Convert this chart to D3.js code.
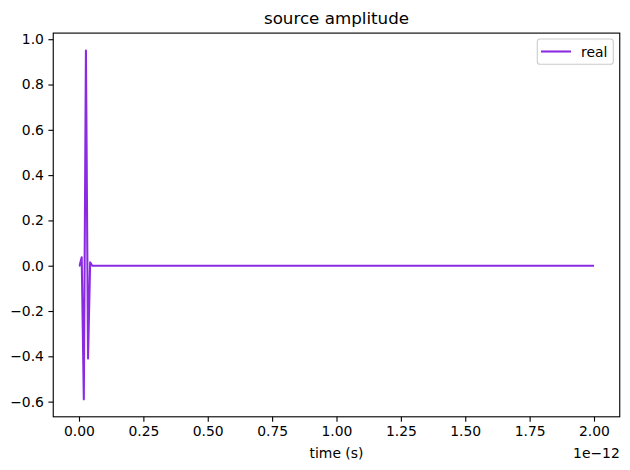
<!DOCTYPE html>
<html>
<head>
<meta charset="utf-8">
<script src="https://cdn.jsdelivr.net/npm/d3@7"></script>
<style>
  body { margin: 0; background: #fff; }
  svg { display: block; font-family: "DejaVu Sans", sans-serif; }
</style>
</head>
<body>
<svg id="chart" width="630" height="470"></svg>
<script>
// time in units of 1e-12 s
const timeValues = [0, 0.0023, 0.0105, 0.0187, 0.0269, 0.0351, 0.0433, 0.0515, 2.0];
const realValues = [0, 0.0, 0.037, -0.59, 0.95, -0.41, 0.015, 0.0, 0.0];
const xTicks = [0, 0.25, 0.5, 0.75, 1.0, 1.25, 1.5, 1.75, 2.0];
const yTicks = [-0.6, -0.4, -0.2, 0.0, 0.2, 0.4, 0.6, 0.8, 1.0];
const seriesName = "real";
const titleText = "source amplitude";
const xLabel = "time (s)";
const offsetText = "1e\u221212";

(function () {
const svg = d3.select("#chart");
const pLeft = 53.25, pRight = 619.75, pTop = 33.1, pBottom = 416.8;
const color = "#8a2be2";

const x = d3.scaleLinear().domain([-0.1, 2.1]).range([pLeft, pRight]);
const yMin = d3.min(realValues), yMax = d3.max(realValues);
const yPad = (yMax - yMin) * 0.05;
const y = d3.scaleLinear().domain([yMin - yPad, yMax + yPad]).range([pBottom, pTop]);

const fmtMinus = s => s.replace("-", "\u2212");

// line
const data = timeValues.map((t, i) => ({ t, v: realValues[i] }));
svg.append("path")
  .datum(data)
  .attr("fill", "none")
  .attr("stroke", color)
  .attr("stroke-width", 2.08)
  .attr("stroke-linejoin", "round")
  .attr("stroke-linecap", "butt")
  .attr("d", d3.line().x(d => x(d.t)).y(d => y(d.v)));

// axes
const xAxis = d3.axisBottom(x).tickValues(xTicks).tickFormat(d => d3.format(".2f")(d)).tickSize(4.86).tickPadding(4.5);
const yAxis = d3.axisLeft(y).tickValues(yTicks).tickFormat(d => fmtMinus(d3.format(".1f")(d))).tickSize(4.86).tickPadding(4.5);

const gx = svg.append("g").attr("transform", `translate(0,${pBottom})`).call(xAxis);
const gy = svg.append("g").attr("transform", `translate(${pLeft},0)`).call(yAxis);
[gx, gy].forEach(g => {
  g.select(".domain").remove();
  g.selectAll(".tick line").attr("stroke", "#000").attr("stroke-width", 1.11);
  g.selectAll(".tick text").attr("fill", "#000").style("font-size", "13.9px").style("font-family", "DejaVu Sans");
});

// frame
svg.append("rect")
  .attr("x", pLeft).attr("y", pTop)
  .attr("width", pRight - pLeft).attr("height", pBottom - pTop)
  .attr("fill", "none").attr("stroke", "#000").attr("stroke-width", 1.11);

// title
svg.append("text")
  .attr("x", (pLeft + pRight) / 2).attr("y", 24)
  .attr("text-anchor", "middle")
  .style("font-size", "16.7px")
  .text(titleText);

// x label
svg.append("text")
  .attr("x", (pLeft + pRight) / 2).attr("y", 458)
  .attr("text-anchor", "middle")
  .style("font-size", "13.9px")
  .text(xLabel);

// offset text
svg.append("text")
  .attr("x", pRight).attr("y", 458)
  .attr("text-anchor", "end")
  .style("font-size", "13.9px")
  .text(offsetText);

// legend
const lg = svg.append("g");
lg.append("rect")
  .attr("x", 537.3).attr("y", 39).attr("width", 76).attr("height", 25.3)
  .attr("rx", 2.8).attr("ry", 2.8)
  .attr("fill", "#fff").attr("fill-opacity", 0.8)
  .attr("stroke", "#cccccc").attr("stroke-width", 1.11);
lg.append("line")
  .attr("x1", 541).attr("x2", 571).attr("y1", 51.5).attr("y2", 51.5)
  .attr("stroke", color).attr("stroke-width", 2.08);
lg.append("text")
  .attr("x", 581).attr("y", 56.5)
  .style("font-size", "13.9px")
  .text(seriesName);
})();
</script>
</body>
</html>
